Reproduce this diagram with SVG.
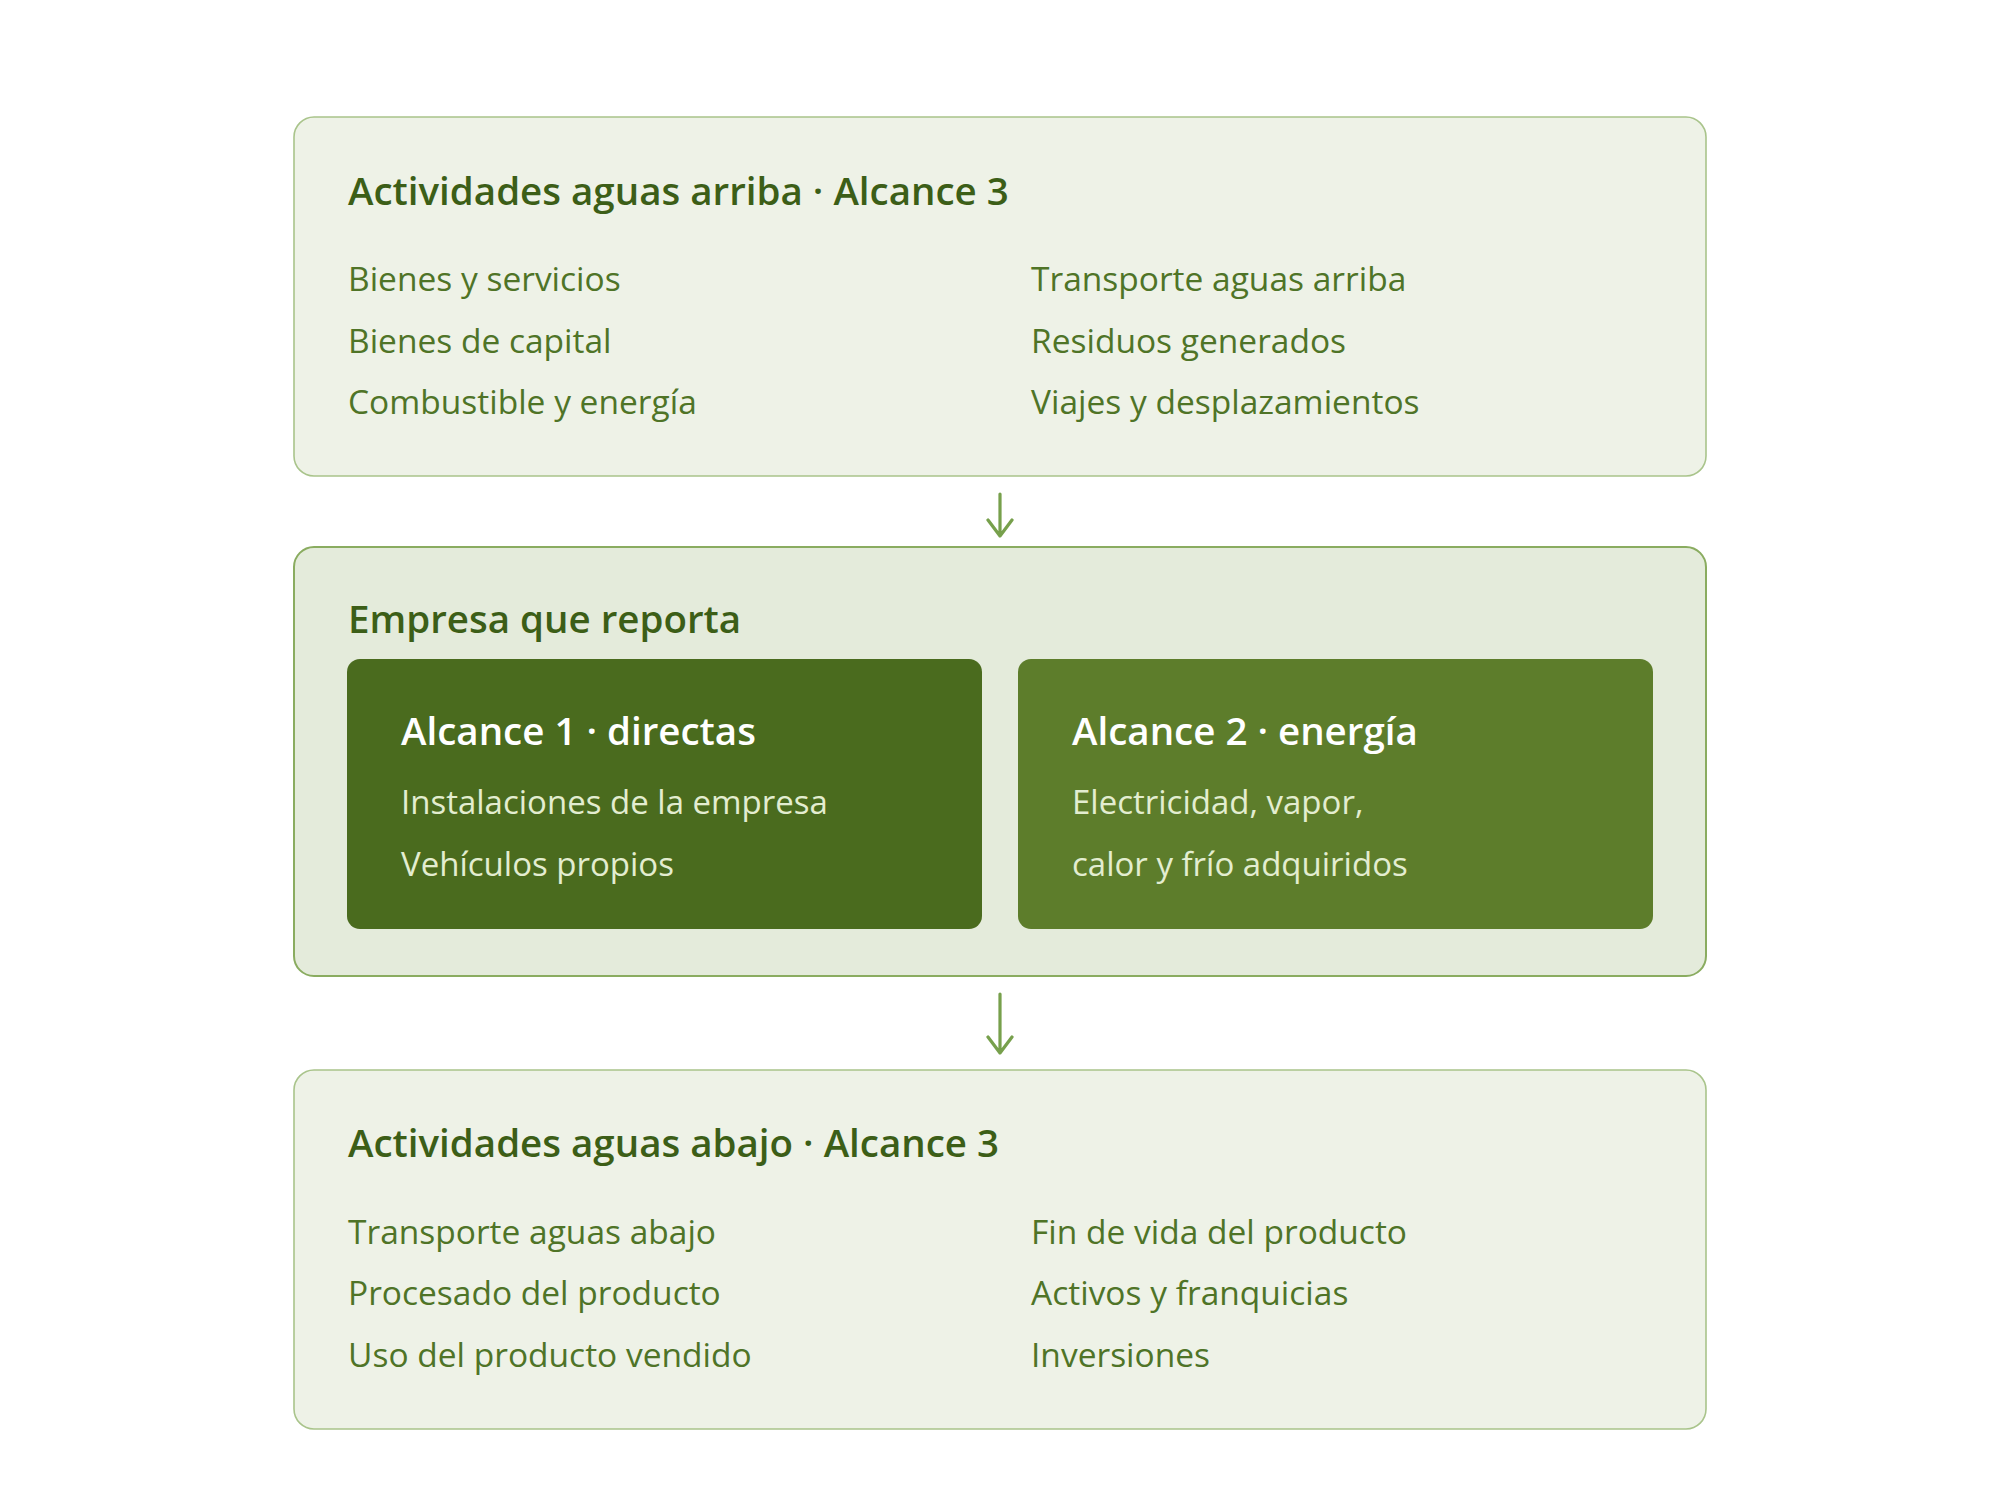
<svg xmlns="http://www.w3.org/2000/svg" width="2000" height="1488" viewBox="0 0 2000 1488">
<style>
.outer{fill:#eef2e7;stroke:#a9c48b;stroke-width:1.6}
.mid{fill:#e4ebdb;stroke:#8aac60;stroke-width:2}
.s1{fill:#4a6b1e}
.s2{fill:#5d7d2b}
.h{font-family:"Open Sans","Noto Sans",sans-serif;font-weight:600;font-size:38.5px;fill:#3c5e17}
.b{font-family:"Open Sans","Noto Sans",sans-serif;font-size:33.5px;fill:#4f7427}
.hw{font-family:"Open Sans","Noto Sans",sans-serif;font-weight:600;font-size:38.5px;fill:#ffffff}
.bw{font-family:"Open Sans","Noto Sans",sans-serif;font-size:33px;fill:#e3edd0}
.arr{fill:none;stroke:#77a04c;stroke-width:3.2;stroke-linecap:round;stroke-linejoin:round}
</style>
<rect width="2000" height="1488" fill="#ffffff"/>
<g id="upstream">
<rect class="outer" x="294" y="117" width="1412" height="359" rx="20"/>
<text class="h" x="348" y="205">Actividades aguas arriba · Alcance 3</text>
<text class="b" x="348" y="291">Bienes y servicios</text>
<text class="b" x="348" y="353">Bienes de capital</text>
<text class="b" x="348" y="414">Combustible y energía</text>
<text class="b" x="1031" y="291">Transporte aguas arriba</text>
<text class="b" x="1031" y="353">Residuos generados</text>
<text class="b" x="1031" y="414">Viajes y desplazamientos</text>
</g>
<g id="company">
<rect class="mid" x="294" y="547" width="1412" height="429" rx="20"/>
<text class="h" x="348" y="633">Empresa que reporta</text>
<g id="scope1">
<rect class="s1" x="347" y="659" width="635" height="270" rx="13"/>
<text class="hw" x="401" y="745">Alcance 1 · directas</text>
<text class="bw" x="401" y="814">Instalaciones de la empresa</text>
<text class="bw" x="401" y="876">Vehículos propios</text>
</g>
<g id="scope2">
<rect class="s2" x="1018" y="659" width="635" height="270" rx="13"/>
<text class="hw" x="1072" y="745">Alcance 2 · energía</text>
<text class="bw" x="1072" y="814">Electricidad, vapor,</text>
<text class="bw" x="1072" y="876">calor y frío adquiridos</text>
</g>
</g>
<g id="downstream">
<rect class="outer" x="294" y="1070" width="1412" height="359" rx="20"/>
<text class="h" x="348" y="1157">Actividades aguas abajo · Alcance 3</text>
<text class="b" x="348" y="1244">Transporte aguas abajo</text>
<text class="b" x="348" y="1305">Procesado del producto</text>
<text class="b" x="348" y="1367">Uso del producto vendido</text>
<text class="b" x="1031" y="1244">Fin de vida del producto</text>
<text class="b" x="1031" y="1305">Activos y franquicias</text>
<text class="b" x="1031" y="1367">Inversiones</text>
</g>
<g id="connectors">
<path class="arr" d="M1000 494 V536 M988 520 L1000 536 L1012 520"/>
<path class="arr" d="M1000 994 V1053 M988 1037 L1000 1053 L1012 1037"/>
</g>
</svg>
